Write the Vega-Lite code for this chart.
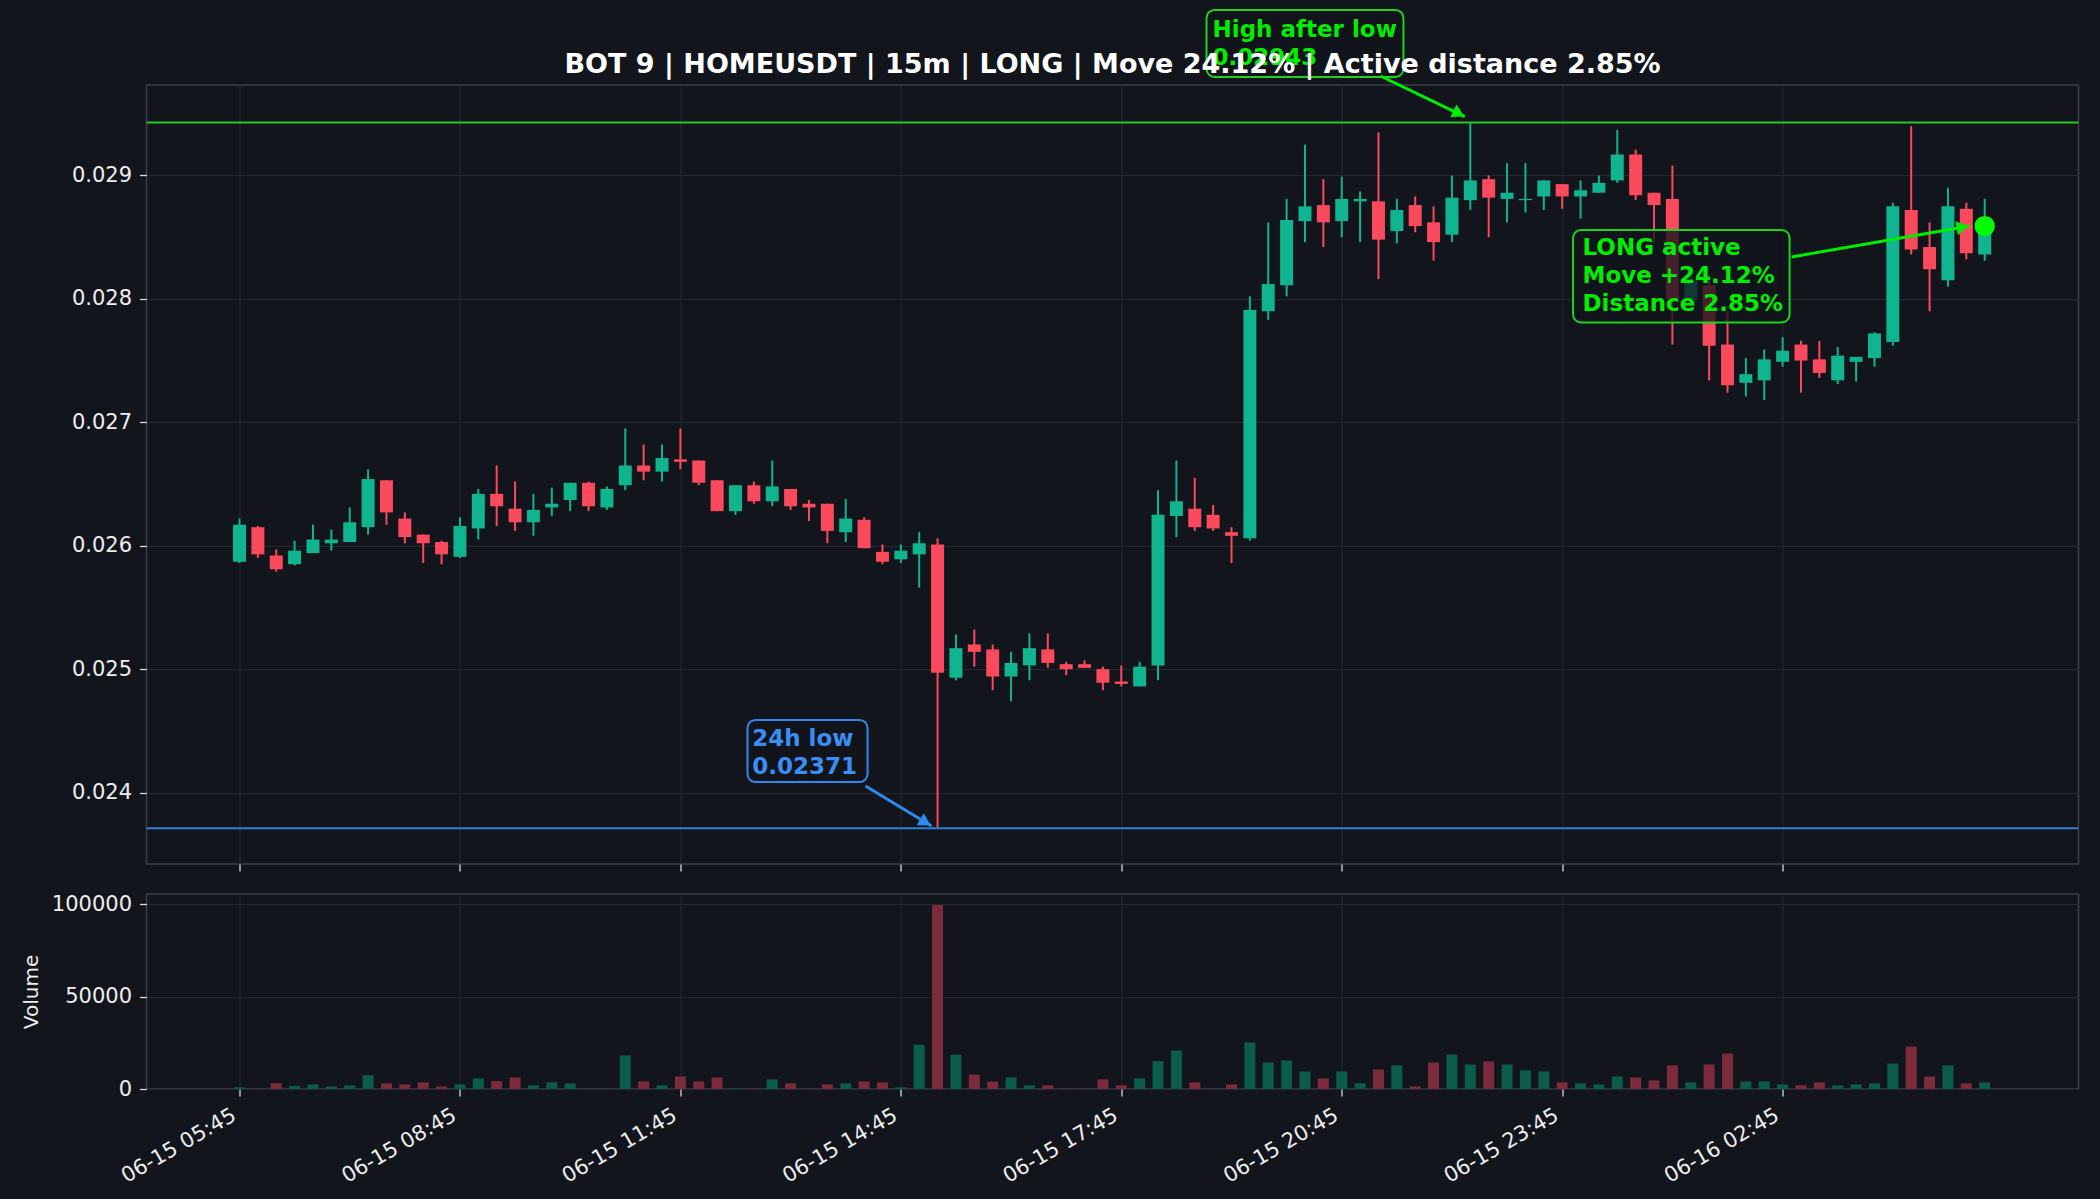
{
  "$schema": "https://vega.github.io/schema/vega-lite/v6.json",
  "background": "#12151c",
  "padding": {"left": 20.5, "top": 8, "right": 19, "bottom": 11},
  "config": {
    "font": "DejaVu Sans",
    "scale": {"continuousPadding": 0},
    "view": {"stroke": "#3a3e47", "strokeWidth": 1.5, "fill": "#12151c"},
    "axis": {
      "labelColor": "#eeeeee", "labelFontSize": 21, "labelFont": "DejaVu Sans",
      "tickColor": "#d8d8d8", "tickSize": 7, "tickWidth": 1.3, "labelPadding": 8,
      "domain": false, "gridColor": "#242831", "gridWidth": 1,
      "titleColor": "#eeeeee", "titleFontSize": 20, "titleFontWeight": "normal", "titleFont": "DejaVu Sans"
    }
  },
  "datasets": {
    "candles": [
      {"t": "2025-06-15T05:45", "open": 0.02587, "high": 0.02622, "low": 0.02586, "close": 0.02617, "volume": 900},
      {"t": "2025-06-15T06:00", "open": 0.02615, "high": 0.02616, "low": 0.02590, "close": 0.02593, "volume": 200},
      {"t": "2025-06-15T06:15", "open": 0.02592, "high": 0.02597, "low": 0.02579, "close": 0.02581, "volume": 3060},
      {"t": "2025-06-15T06:30", "open": 0.02585, "high": 0.02604, "low": 0.02584, "close": 0.02596, "volume": 1600},
      {"t": "2025-06-15T06:45", "open": 0.02594, "high": 0.02617, "low": 0.02594, "close": 0.02605, "volume": 2500},
      {"t": "2025-06-15T07:00", "open": 0.02602, "high": 0.02613, "low": 0.02596, "close": 0.02605, "volume": 1400},
      {"t": "2025-06-15T07:15", "open": 0.02603, "high": 0.02631, "low": 0.02603, "close": 0.02619, "volume": 2000},
      {"t": "2025-06-15T07:30", "open": 0.02615, "high": 0.02662, "low": 0.02609, "close": 0.02654, "volume": 7400},
      {"t": "2025-06-15T07:45", "open": 0.02653, "high": 0.02653, "low": 0.02617, "close": 0.02627, "volume": 3060},
      {"t": "2025-06-15T08:00", "open": 0.02622, "high": 0.02627, "low": 0.02602, "close": 0.02607, "volume": 2500},
      {"t": "2025-06-15T08:15", "open": 0.02609, "high": 0.02609, "low": 0.02586, "close": 0.02602, "volume": 3600},
      {"t": "2025-06-15T08:30", "open": 0.02603, "high": 0.02604, "low": 0.02585, "close": 0.02593, "volume": 1400},
      {"t": "2025-06-15T08:45", "open": 0.02591, "high": 0.02623, "low": 0.02590, "close": 0.02616, "volume": 2500},
      {"t": "2025-06-15T09:00", "open": 0.02614, "high": 0.02646, "low": 0.02605, "close": 0.02642, "volume": 5760},
      {"t": "2025-06-15T09:15", "open": 0.02642, "high": 0.02665, "low": 0.02616, "close": 0.02632, "volume": 4300},
      {"t": "2025-06-15T09:30", "open": 0.02630, "high": 0.02652, "low": 0.02612, "close": 0.02619, "volume": 6300},
      {"t": "2025-06-15T09:45", "open": 0.02619, "high": 0.02642, "low": 0.02608, "close": 0.02629, "volume": 2000},
      {"t": "2025-06-15T10:00", "open": 0.02631, "high": 0.02647, "low": 0.02624, "close": 0.02634, "volume": 3600},
      {"t": "2025-06-15T10:15", "open": 0.02637, "high": 0.02651, "low": 0.02628, "close": 0.02651, "volume": 3060},
      {"t": "2025-06-15T10:30", "open": 0.02651, "high": 0.02652, "low": 0.02628, "close": 0.02632, "volume": 200},
      {"t": "2025-06-15T10:45", "open": 0.02631, "high": 0.02648, "low": 0.02629, "close": 0.02646, "volume": 200},
      {"t": "2025-06-15T11:00", "open": 0.02649, "high": 0.02695, "low": 0.02645, "close": 0.02665, "volume": 18200},
      {"t": "2025-06-15T11:15", "open": 0.02665, "high": 0.02682, "low": 0.02653, "close": 0.02660, "volume": 4100},
      {"t": "2025-06-15T11:30", "open": 0.02660, "high": 0.02682, "low": 0.02652, "close": 0.02671, "volume": 2000},
      {"t": "2025-06-15T11:45", "open": 0.02670, "high": 0.02695, "low": 0.02662, "close": 0.02668, "volume": 6800},
      {"t": "2025-06-15T12:00", "open": 0.02669, "high": 0.02669, "low": 0.02649, "close": 0.02651, "volume": 4100},
      {"t": "2025-06-15T12:15", "open": 0.02653, "high": 0.02653, "low": 0.02628, "close": 0.02628, "volume": 6300},
      {"t": "2025-06-15T12:30", "open": 0.02628, "high": 0.02649, "low": 0.02625, "close": 0.02649, "volume": 200},
      {"t": "2025-06-15T12:45", "open": 0.02649, "high": 0.02652, "low": 0.02634, "close": 0.02636, "volume": 200},
      {"t": "2025-06-15T13:00", "open": 0.02636, "high": 0.02669, "low": 0.02632, "close": 0.02648, "volume": 5200},
      {"t": "2025-06-15T13:15", "open": 0.02646, "high": 0.02646, "low": 0.02629, "close": 0.02632, "volume": 3060},
      {"t": "2025-06-15T13:30", "open": 0.02634, "high": 0.02637, "low": 0.02620, "close": 0.02631, "volume": 200},
      {"t": "2025-06-15T13:45", "open": 0.02634, "high": 0.02634, "low": 0.02602, "close": 0.02612, "volume": 2500},
      {"t": "2025-06-15T14:00", "open": 0.02611, "high": 0.02638, "low": 0.02603, "close": 0.02622, "volume": 3060},
      {"t": "2025-06-15T14:15", "open": 0.02621, "high": 0.02623, "low": 0.02598, "close": 0.02598, "volume": 4100},
      {"t": "2025-06-15T14:30", "open": 0.02595, "high": 0.02601, "low": 0.02585, "close": 0.02587, "volume": 3600},
      {"t": "2025-06-15T14:45", "open": 0.02589, "high": 0.02601, "low": 0.02586, "close": 0.02596, "volume": 900},
      {"t": "2025-06-15T15:00", "open": 0.02593, "high": 0.02611, "low": 0.02566, "close": 0.02602, "volume": 24000},
      {"t": "2025-06-15T15:15", "open": 0.02601, "high": 0.02606, "low": 0.02371, "close": 0.02497, "volume": 99700},
      {"t": "2025-06-15T15:30", "open": 0.02493, "high": 0.02528, "low": 0.02491, "close": 0.02517, "volume": 18600},
      {"t": "2025-06-15T15:45", "open": 0.02520, "high": 0.02532, "low": 0.02502, "close": 0.02514, "volume": 7800},
      {"t": "2025-06-15T16:00", "open": 0.02516, "high": 0.02520, "low": 0.02483, "close": 0.02494, "volume": 4000},
      {"t": "2025-06-15T16:15", "open": 0.02494, "high": 0.02514, "low": 0.02474, "close": 0.02505, "volume": 6300},
      {"t": "2025-06-15T16:30", "open": 0.02503, "high": 0.02529, "low": 0.02491, "close": 0.02517, "volume": 2000},
      {"t": "2025-06-15T16:45", "open": 0.02516, "high": 0.02529, "low": 0.02501, "close": 0.02505, "volume": 2000},
      {"t": "2025-06-15T17:00", "open": 0.02504, "high": 0.02506, "low": 0.02495, "close": 0.02500, "volume": 200},
      {"t": "2025-06-15T17:15", "open": 0.02504, "high": 0.02507, "low": 0.02501, "close": 0.02501, "volume": 200},
      {"t": "2025-06-15T17:30", "open": 0.02500, "high": 0.02502, "low": 0.02483, "close": 0.02489, "volume": 5200},
      {"t": "2025-06-15T17:45", "open": 0.02490, "high": 0.02503, "low": 0.02486, "close": 0.02488, "volume": 2000},
      {"t": "2025-06-15T18:00", "open": 0.02486, "high": 0.02506, "low": 0.02486, "close": 0.02502, "volume": 5760},
      {"t": "2025-06-15T18:15", "open": 0.02503, "high": 0.02645, "low": 0.02491, "close": 0.02625, "volume": 15100},
      {"t": "2025-06-15T18:30", "open": 0.02624, "high": 0.02669, "low": 0.02607, "close": 0.02636, "volume": 20900},
      {"t": "2025-06-15T18:45", "open": 0.02630, "high": 0.02655, "low": 0.02612, "close": 0.02615, "volume": 3600},
      {"t": "2025-06-15T19:00", "open": 0.02625, "high": 0.02633, "low": 0.02612, "close": 0.02614, "volume": 200},
      {"t": "2025-06-15T19:15", "open": 0.02611, "high": 0.02615, "low": 0.02586, "close": 0.02608, "volume": 2500},
      {"t": "2025-06-15T19:30", "open": 0.02606, "high": 0.02802, "low": 0.02604, "close": 0.02791, "volume": 25200},
      {"t": "2025-06-15T19:45", "open": 0.02790, "high": 0.02862, "low": 0.02783, "close": 0.02812, "volume": 14400},
      {"t": "2025-06-15T20:00", "open": 0.02811, "high": 0.02881, "low": 0.02802, "close": 0.02864, "volume": 15500},
      {"t": "2025-06-15T20:15", "open": 0.02863, "high": 0.02925, "low": 0.02846, "close": 0.02875, "volume": 9500},
      {"t": "2025-06-15T20:30", "open": 0.02876, "high": 0.02897, "low": 0.02842, "close": 0.02862, "volume": 5760},
      {"t": "2025-06-15T20:45", "open": 0.02863, "high": 0.02899, "low": 0.02850, "close": 0.02881, "volume": 9500},
      {"t": "2025-06-15T21:00", "open": 0.02879, "high": 0.02887, "low": 0.02846, "close": 0.02881, "volume": 3060},
      {"t": "2025-06-15T21:15", "open": 0.02879, "high": 0.02935, "low": 0.02816, "close": 0.02848, "volume": 10600},
      {"t": "2025-06-15T21:30", "open": 0.02855, "high": 0.02881, "low": 0.02845, "close": 0.02872, "volume": 12800},
      {"t": "2025-06-15T21:45", "open": 0.02876, "high": 0.02883, "low": 0.02854, "close": 0.02859, "volume": 1400},
      {"t": "2025-06-15T22:00", "open": 0.02862, "high": 0.02875, "low": 0.02831, "close": 0.02846, "volume": 14400},
      {"t": "2025-06-15T22:15", "open": 0.02852, "high": 0.02900, "low": 0.02846, "close": 0.02882, "volume": 18700},
      {"t": "2025-06-15T22:30", "open": 0.02880, "high": 0.02943, "low": 0.02872, "close": 0.02896, "volume": 13300},
      {"t": "2025-06-15T22:45", "open": 0.02897, "high": 0.02900, "low": 0.02850, "close": 0.02882, "volume": 14900},
      {"t": "2025-06-15T23:00", "open": 0.02881, "high": 0.02910, "low": 0.02862, "close": 0.02886, "volume": 13300},
      {"t": "2025-06-15T23:15", "open": 0.02880, "high": 0.02910, "low": 0.02870, "close": 0.02881, "volume": 10100},
      {"t": "2025-06-15T23:30", "open": 0.02883, "high": 0.02896, "low": 0.02872, "close": 0.02896, "volume": 9500},
      {"t": "2025-06-15T23:45", "open": 0.02893, "high": 0.02893, "low": 0.02873, "close": 0.02883, "volume": 3600},
      {"t": "2025-06-16T00:00", "open": 0.02883, "high": 0.02896, "low": 0.02865, "close": 0.02888, "volume": 3060},
      {"t": "2025-06-16T00:15", "open": 0.02886, "high": 0.02900, "low": 0.02886, "close": 0.02894, "volume": 2500},
      {"t": "2025-06-16T00:30", "open": 0.02896, "high": 0.02937, "low": 0.02894, "close": 0.02917, "volume": 6800},
      {"t": "2025-06-16T00:45", "open": 0.02917, "high": 0.02921, "low": 0.02880, "close": 0.02884, "volume": 6300},
      {"t": "2025-06-16T01:00", "open": 0.02886, "high": 0.02886, "low": 0.02845, "close": 0.02876, "volume": 4700},
      {"t": "2025-06-16T01:15", "open": 0.02881, "high": 0.02908, "low": 0.02763, "close": 0.02800, "volume": 12800},
      {"t": "2025-06-16T01:30", "open": 0.02799, "high": 0.02825, "low": 0.02790, "close": 0.02815, "volume": 3600},
      {"t": "2025-06-16T01:45", "open": 0.02811, "high": 0.02820, "low": 0.02734, "close": 0.02762, "volume": 13300},
      {"t": "2025-06-16T02:00", "open": 0.02763, "high": 0.02790, "low": 0.02724, "close": 0.02730, "volume": 19200},
      {"t": "2025-06-16T02:15", "open": 0.02732, "high": 0.02752, "low": 0.02721, "close": 0.02739, "volume": 4100},
      {"t": "2025-06-16T02:30", "open": 0.02734, "high": 0.02759, "low": 0.02718, "close": 0.02751, "volume": 4100},
      {"t": "2025-06-16T02:45", "open": 0.02749, "high": 0.02769, "low": 0.02745, "close": 0.02758, "volume": 2500},
      {"t": "2025-06-16T03:00", "open": 0.02763, "high": 0.02766, "low": 0.02724, "close": 0.02750, "volume": 2000},
      {"t": "2025-06-16T03:15", "open": 0.02751, "high": 0.02766, "low": 0.02736, "close": 0.02740, "volume": 3600},
      {"t": "2025-06-16T03:30", "open": 0.02734, "high": 0.02761, "low": 0.02731, "close": 0.02754, "volume": 2000},
      {"t": "2025-06-16T03:45", "open": 0.02749, "high": 0.02753, "low": 0.02733, "close": 0.02753, "volume": 2500},
      {"t": "2025-06-16T04:00", "open": 0.02752, "high": 0.02773, "low": 0.02745, "close": 0.02772, "volume": 3060},
      {"t": "2025-06-16T04:15", "open": 0.02765, "high": 0.02878, "low": 0.02762, "close": 0.02875, "volume": 13800},
      {"t": "2025-06-16T04:30", "open": 0.02872, "high": 0.02940, "low": 0.02836, "close": 0.02840, "volume": 23000},
      {"t": "2025-06-16T04:45", "open": 0.02842, "high": 0.02862, "low": 0.02790, "close": 0.02824, "volume": 6800},
      {"t": "2025-06-16T05:00", "open": 0.02815, "high": 0.02890, "low": 0.02810, "close": 0.02875, "volume": 12800},
      {"t": "2025-06-16T05:15", "open": 0.02873, "high": 0.02878, "low": 0.02832, "close": 0.02837, "volume": 3060},
      {"t": "2025-06-16T05:30", "open": 0.02836, "high": 0.02881, "low": 0.02831, "close": 0.02859, "volume": 3600}
    ]
  },
  "spacing": 30,
  "bounds": "flush",
  "vconcat": [
    {
      "width": 1932,
      "height": 779,
      "layer": [
        {
          "data": {"name": "candles"},
          "mark": {"type": "rule", "strokeWidth": 2},
          "encoding": {
            "x": {
              "field": "t", "type": "temporal",
              "scale": {"padding": 0, "domain": [
                {"year": 2025, "month": 6, "date": 15, "hours": 4, "minutes": 29, "seconds": 4},
                {"year": 2025, "month": 6, "date": 16, "hours": 6, "minutes": 46, "seconds": 36}
              ]},
              "axis": {
                "title": null, "labels": false, "ticks": true, "grid": true,
                "values": [
                  {"year": 2025, "month": 6, "date": 15, "hours": 5, "minutes": 45},
                  {"year": 2025, "month": 6, "date": 15, "hours": 8, "minutes": 45},
                  {"year": 2025, "month": 6, "date": 15, "hours": 11, "minutes": 45},
                  {"year": 2025, "month": 6, "date": 15, "hours": 14, "minutes": 45},
                  {"year": 2025, "month": 6, "date": 15, "hours": 17, "minutes": 45},
                  {"year": 2025, "month": 6, "date": 15, "hours": 20, "minutes": 45},
                  {"year": 2025, "month": 6, "date": 15, "hours": 23, "minutes": 45},
                  {"year": 2025, "month": 6, "date": 16, "hours": 2, "minutes": 45}
                ]
              }
            },
            "y": {
              "field": "low", "type": "quantitative",
              "scale": {"domain": [0.023421, 0.029733], "zero": false, "nice": false, "padding": 0},
              "axis": {"title": null, "grid": true, "format": ".3f", "values": [0.024, 0.025, 0.026, 0.027, 0.028, 0.029]}
            },
            "y2": {"field": "high"},
            "color": {"condition": {"test": "datum.close >= datum.open", "value": "#10b48f"}, "value": "#fb4a5d"}
          }
        },
        {
          "data": {"name": "candles"},
          "mark": {"type": "bar", "size": 13},
          "encoding": {
            "x": {"field": "t", "type": "temporal"},
            "y": {"field": "open", "type": "quantitative"},
            "y2": {"field": "close"},
            "color": {"condition": {"test": "datum.close >= datum.open", "value": "#10b48f"}, "value": "#fb4a5d"}
          }
        },
        {
          "data": {"values": [{"level": "24h low", "price": 0.02371}, {"level": "High after low", "price": 0.02943}]},
          "mark": {"type": "rule", "strokeWidth": 2},
          "encoding": {
            "y": {"field": "price", "type": "quantitative"},
            "color": {"condition": {"test": "datum.level == '24h low'", "value": "#2f80d8"}, "value": "#22cc22"}
          }
        },
        {
          "data": {"values": [
            {"note": "24h low", "t": "2025-06-15T12:39:48", "t2": "2025-06-15T14:17:50", "p": 0.024588, "p2": 0.024085},
            {"note": "High after low", "t": "2025-06-15T18:54:36", "t2": "2025-06-15T21:35:24", "p": 0.030341, "p2": 0.029798},
            {"note": "LONG active", "t": "2025-06-15T23:53:54", "t2": "2025-06-16T02:50:42", "p": 0.028558, "p2": 0.027809}
          ]},
          "mark": {"type": "rect", "fill": "#12151c", "fillOpacity": 0.78, "strokeWidth": 2, "cornerRadius": 8},
          "encoding": {
            "x": {"field": "t", "type": "temporal"},
            "x2": {"field": "t2"},
            "y": {"field": "p", "type": "quantitative"},
            "y2": {"field": "p2"},
            "stroke": {"condition": {"test": "datum.note == '24h low'", "value": "#3088ec"}, "value": "#1fd21f"}
          }
        },
        {
          "data": {"values": [
            {"note": "24h low", "t": "2025-06-15T12:43:40", "p": 0.024430, "label": "24h low\n0.02371"},
            {"note": "High after low", "t": "2025-06-15T18:59:30", "p": 0.030180, "label": "High after low\n0.02943"},
            {"note": "LONG active", "t": "2025-06-16T00:01:36", "p": 0.028410, "label": "LONG active\nMove +24.12%\nDistance 2.85%"}
          ]},
          "mark": {"type": "text", "align": "left", "baseline": "middle", "fontWeight": "bold", "fontSize": 23, "lineBreak": "\n", "lineHeight": 28},
          "encoding": {
            "x": {"field": "t", "type": "temporal"},
            "y": {"field": "p", "type": "quantitative"},
            "text": {"field": "label"},
            "color": {"condition": {"test": "datum.note == '24h low'", "value": "#3b8ff4"}, "value": "#00ee00"}
          }
        },
        {
          "data": {"values": [
            {"note": "24h low", "t": "2025-06-15T14:16:12", "p": 0.024053, "t2": "2025-06-15T15:10:03", "p2": 0.023729},
            {"note": "High after low", "t": "2025-06-15T21:16:39", "p": 0.029806, "t2": "2025-06-15T22:25:30", "p2": 0.029477},
            {"note": "LONG active", "t": "2025-06-16T02:52:20", "p": 0.028340, "t2": "2025-06-16T05:17:53", "p2": 0.028591}
          ]},
          "mark": {"type": "rule", "strokeWidth": 3},
          "encoding": {
            "x": {"field": "t", "type": "temporal"},
            "x2": {"field": "t2"},
            "y": {"field": "p", "type": "quantitative"},
            "y2": {"field": "p2"},
            "color": {"condition": {"test": "datum.note == '24h low'", "value": "#2f8af0"}, "value": "#00ee00"}
          }
        },
        {
          "data": {"values": [{"t": "2025-06-15T15:05:06", "p": 0.023758}]},
          "mark": {"type": "point", "shape": "triangle-right", "angle": 31, "size": 200, "filled": true, "opacity": 1, "color": "#2f8af0"},
          "encoding": {"x": {"field": "t", "type": "temporal"}, "y": {"field": "p", "type": "quantitative"}}
        },
        {
          "data": {"values": [{"t": "2025-06-15T22:20:36", "p": 0.029502}]},
          "mark": {"type": "point", "shape": "triangle-right", "angle": 26, "size": 200, "filled": true, "opacity": 1, "color": "#00ee00"},
          "encoding": {"x": {"field": "t", "type": "temporal"}, "y": {"field": "p", "type": "quantitative"}}
        },
        {
          "data": {"values": [{"t": "2025-06-16T05:12:00", "p": 0.028581}]},
          "mark": {"type": "point", "shape": "triangle-right", "angle": -10, "size": 200, "filled": true, "opacity": 1, "color": "#00ee00"},
          "encoding": {"x": {"field": "t", "type": "temporal"}, "y": {"field": "p", "type": "quantitative"}}
        },
        {
          "data": {"values": [{"t": "2025-06-16T05:30", "price": 0.02859}]},
          "mark": {"type": "point", "shape": "circle", "size": 415, "filled": true, "opacity": 1, "color": "#00ff00"},
          "encoding": {"x": {"field": "t", "type": "temporal"}, "y": {"field": "price", "type": "quantitative"}}
        },
        {
          "data": {"values": [{"t": "2025-06-15T17:37:54", "p": 0.029831, "title": "BOT 9 | HOMEUSDT | 15m | LONG | Move 24.12% | Active distance 2.85%"}]},
          "mark": {"type": "text", "align": "center", "baseline": "alphabetic", "fontWeight": "bold", "fontSize": 27, "color": "#ffffff"},
          "encoding": {"x": {"field": "t", "type": "temporal"}, "y": {"field": "p", "type": "quantitative"}, "text": {"field": "title"}}
        }
      ]
    },
    {
      "width": 1932,
      "height": 195,
      "data": {"name": "candles"},
      "mark": {"type": "bar", "size": 11},
      "encoding": {
        "x": {
          "field": "t", "type": "temporal",
          "scale": {"padding": 0, "domain": [
            {"year": 2025, "month": 6, "date": 15, "hours": 4, "minutes": 29, "seconds": 4},
            {"year": 2025, "month": 6, "date": 16, "hours": 6, "minutes": 46, "seconds": 36}
          ]},
          "axis": {
            "title": null, "grid": true, "format": "%m-%d %H:%M",
            "labelAngle": -30, "labelAlign": "right", "labelBaseline": "top", "labelOffset": -11,
            "values": [
              {"year": 2025, "month": 6, "date": 15, "hours": 5, "minutes": 45},
              {"year": 2025, "month": 6, "date": 15, "hours": 8, "minutes": 45},
              {"year": 2025, "month": 6, "date": 15, "hours": 11, "minutes": 45},
              {"year": 2025, "month": 6, "date": 15, "hours": 14, "minutes": 45},
              {"year": 2025, "month": 6, "date": 15, "hours": 17, "minutes": 45},
              {"year": 2025, "month": 6, "date": 15, "hours": 20, "minutes": 45},
              {"year": 2025, "month": 6, "date": 15, "hours": 23, "minutes": 45},
              {"year": 2025, "month": 6, "date": 16, "hours": 2, "minutes": 45}
            ]
          }
        },
        "y": {
          "field": "volume", "type": "quantitative",
          "scale": {"domain": [0, 105676], "nice": false, "zero": true, "padding": 0},
          "axis": {"title": "Volume", "titlePadding": 10, "grid": true, "format": "d", "values": [0, 50000, 100000]}
        },
        "color": {"condition": {"test": "datum.close >= datum.open", "value": "#0c5c4a"}, "value": "#7b2b3b"}
      }
    }
  ]
}
